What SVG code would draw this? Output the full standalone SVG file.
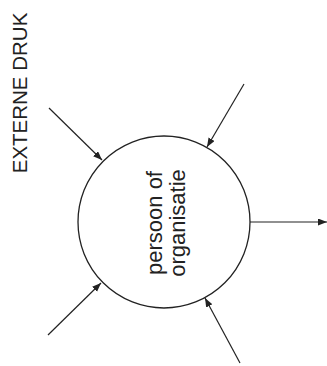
<svg xmlns="http://www.w3.org/2000/svg" width="327" height="366" viewBox="0 0 327 366">
<style>
.lbl{font-family:"Liberation Sans",Arial,sans-serif;fill:#222;}
.conn{stroke:#222;stroke-width:1.2;fill:none;marker-end:url(#arr);}
</style>
<defs>
<marker id="arr" markerUnits="userSpaceOnUse" markerWidth="10" markerHeight="8" refX="9" refY="3.5" orient="auto">
<path d="M0,0 L9,3.5 L0,7 z" fill="#222"/>
</marker>
</defs>
<rect width="327" height="366" fill="#fff"/>
<g id="title">
<text class="lbl" font-size="20.5" text-anchor="middle" transform="translate(27,93) rotate(-90)">EXTERNE DRUK</text>
</g>
<g id="node-persoon">
<circle cx="164" cy="222" r="86" fill="none" stroke="#222" stroke-width="1.3"/>
<text class="lbl" font-size="22" text-anchor="middle" transform="translate(162,223) rotate(-90)">persoon of</text>
<text class="lbl" font-size="22" text-anchor="middle" transform="translate(185,223) rotate(-90)">organisatie</text>
</g>
<g id="connectors">
<line class="conn" x1="49" y1="108" x2="102" y2="160"/>
<line class="conn" x1="244" y1="84" x2="207" y2="147"/>
<line class="conn" x1="250" y1="222" x2="327" y2="222"/>
<line class="conn" x1="48" y1="335" x2="101" y2="283"/>
<line class="conn" x1="240" y1="363" x2="205" y2="298"/>
</g>
</svg>
